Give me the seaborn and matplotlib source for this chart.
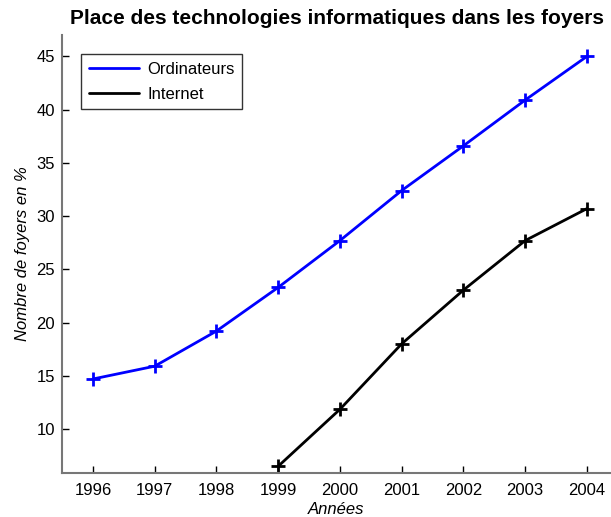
import matplotlib
matplotlib.use("Agg")
import matplotlib.pyplot as plt
import pandas as pd
import seaborn as sns

#%% data
annees_ordi = [1996, 1997, 1998, 1999, 2000, 2001, 2002, 2003, 2004]
ordinateurs = [14.7, 15.9, 19.2, 23.3, 27.7, 32.4, 36.6, 40.9, 45.0]

annees_net = [1999, 2000, 2001, 2002, 2003, 2004]
internet = [6.5, 11.85, 18.0, 23.05, 27.7, 30.7]

df = pd.concat([
    pd.DataFrame({'annee': annees_ordi, 'pct': ordinateurs, 'serie': 'Ordinateurs'}),
    pd.DataFrame({'annee': annees_net, 'pct': internet, 'serie': 'Internet'}),
])

#%% plot
sns.set_style('white')
plt.rcParams['font.family'] = ['Liberation Sans', 'DejaVu Sans']
plt.rcParams['text.color'] = 'black'
plt.rcParams['axes.labelcolor'] = 'black'

fig = plt.figure(figsize=(6.11, 5.17), dpi=100)
ax = fig.add_axes([0.1015, 0.0851, 0.8985, 0.847])

colors = {'Ordinateurs': '#0000ff', 'Internet': '#000000'}
sns.lineplot(data=df, x='annee', y='pct', hue='serie', palette=colors,
             lw=2, ax=ax, legend=True)
# '+' markers on top
for serie, sub in df.groupby('serie'):
    ax.plot(sub['annee'], sub['pct'], ls='none', marker='+', ms=10, mew=2,
            color=colors[serie])

ax.set_xlim(1995.5, 2004.39)
ax.set_ylim(5.87, 47)
ax.set_xticks(annees_ordi)
ax.set_yticks([10, 15, 20, 25, 30, 35, 40, 45])
ax.tick_params(bottom=True, left=True, direction='in', length=5, width=1,
               colors='black', labelsize=12)
ax.tick_params(axis='x', pad=7)
ax.tick_params(axis='y', pad=5)
for s in ['top', 'right']:
    ax.spines[s].set_visible(False)
for s in ['left', 'bottom']:
    ax.spines[s].set_color('#777777')
    ax.spines[s].set_linewidth(1.5)

ax.set_xlabel('Années', style='italic', fontsize=12, labelpad=3, color='black')
ax.set_ylabel('Nombre de foyers en %', style='italic', fontsize=12, labelpad=5,
              color='black')
ax.set_title('Place des technologies informatiques dans les foyers',
             fontsize=15, fontweight='bold', pad=8, color='black')

leg = ax.legend(loc='upper left', bbox_to_anchor=(0.02, 0.975), fontsize=12,
                frameon=True, fancybox=False, edgecolor='black', handlelength=3.0,
                borderpad=0.45, labelspacing=0.6, handletextpad=0.5)
leg.get_frame().set_linewidth(1)

fig.savefig('out.png', dpi=100)
